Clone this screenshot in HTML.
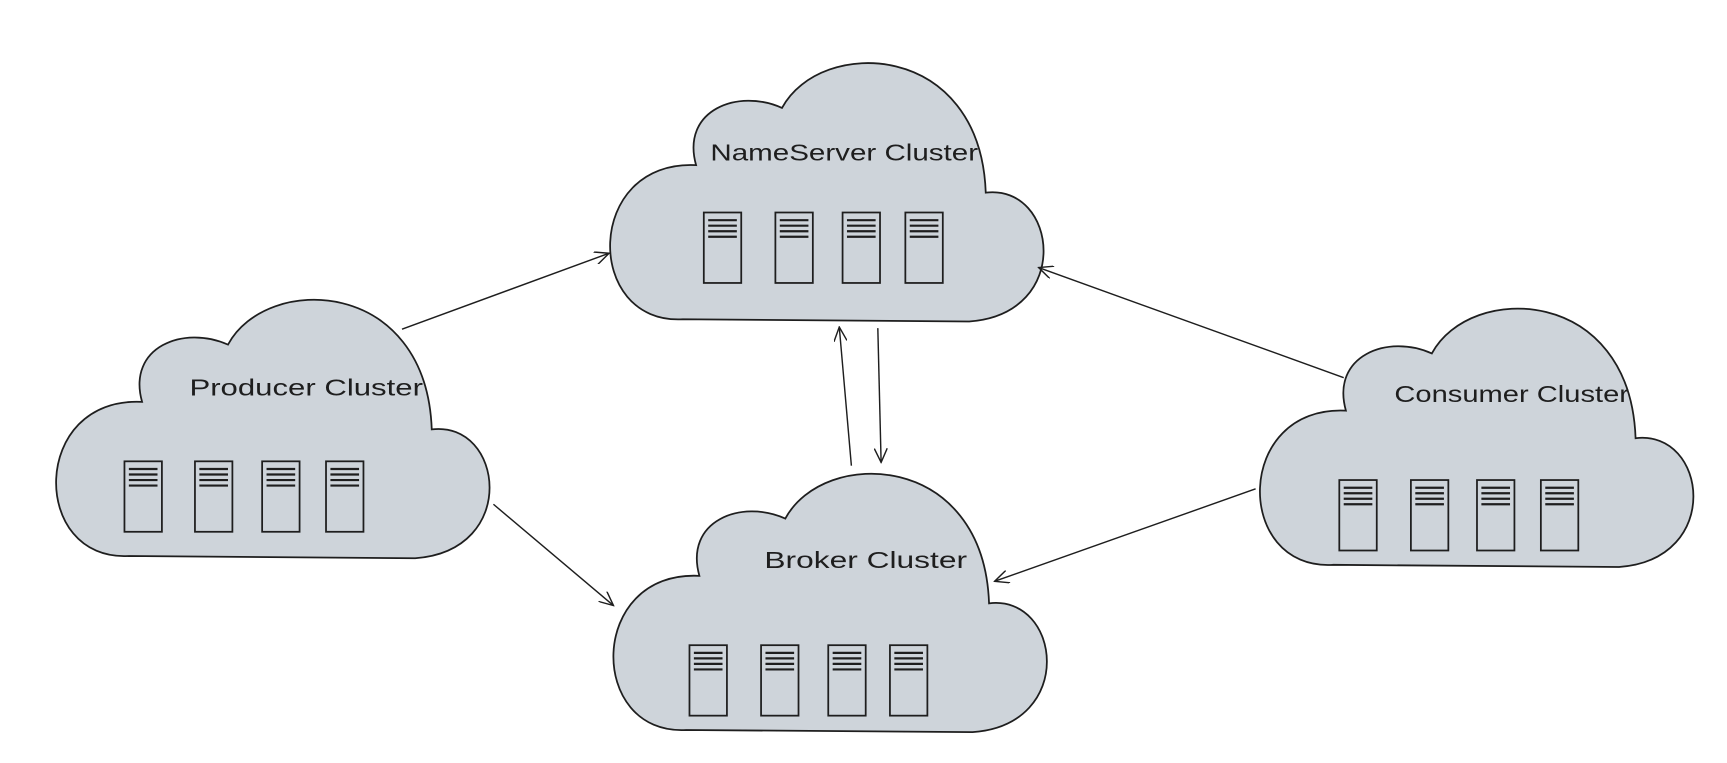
<!DOCTYPE html>
<html><head><meta charset="utf-8"><style>
html,body{margin:0;padding:0;background:#fff;}
svg{display:block;}
text{font-family:"Liberation Sans",sans-serif;font-size:21px;fill:#1e1e1e;}
</style></head><body>
<svg width="1727" height="763" viewBox="0 0 1568 693" preserveAspectRatio="none" xmlns="http://www.w3.org/2000/svg">
<defs>
<path id="cloud" d="M82,95 C68,45 120,25 160,43 C195,-22 340,-18 345,120 C410,112 425,230 330,237 L70,235 C-20,240 -20,90 82,95 Z" fill="#ced4da" stroke="#1e1e1e" stroke-width="1.6"/>
<g id="srv" fill="none" stroke="#1e1e1e" stroke-width="1.6">
<rect x="0" y="0" width="34" height="64"/>
<line x1="4" y1="7" x2="30" y2="7" stroke-width="2"/><line x1="4" y1="12" x2="30" y2="12" stroke-width="2"/><line x1="4" y1="17" x2="30" y2="17" stroke-width="2"/><line x1="4" y1="22" x2="30" y2="22" stroke-width="2"/>
</g>
<marker id="ah" markerWidth="14" markerHeight="12" refX="13" refY="6" orient="auto" markerUnits="userSpaceOnUse">
<path d="M0,0 L13,6 L0,12" fill="none" stroke="#1e1e1e" stroke-width="1.3"/>
</marker>
</defs>
<use href="#cloud" x="550" y="55"/>
<use href="#cloud" x="47" y="270"/>
<use href="#cloud" x="553" y="428"/>
<use href="#cloud" x="1140" y="278"/>

<use href="#srv" x="639" y="193"/><use href="#srv" x="704" y="193"/><use href="#srv" x="765" y="193"/><use href="#srv" x="822" y="193"/>
<use href="#srv" x="113" y="419"/><use href="#srv" x="177" y="419"/><use href="#srv" x="238" y="419"/><use href="#srv" x="296" y="419"/>
<use href="#srv" x="626" y="586"/><use href="#srv" x="691" y="586"/><use href="#srv" x="752" y="586"/><use href="#srv" x="808" y="586"/>
<use href="#srv" x="1216" y="436"/><use href="#srv" x="1281" y="436"/><use href="#srv" x="1341" y="436"/><use href="#srv" x="1399" y="436"/>

<text x="645" y="146" textLength="243" lengthAdjust="spacingAndGlyphs">NameServer Cluster</text>
<text x="172" y="359" textLength="212" lengthAdjust="spacingAndGlyphs">Producer Cluster</text>
<text x="694" y="516" textLength="184" lengthAdjust="spacingAndGlyphs">Broker Cluster</text>
<text x="1266" y="365" textLength="213" lengthAdjust="spacingAndGlyphs">Consumer Cluster</text>

<g stroke="#1e1e1e" stroke-width="1.3" fill="none" marker-end="url(#ah)">
<line x1="365" y1="299" x2="553" y2="230"/>
<line x1="448" y1="458" x2="557" y2="550"/>
<line x1="773" y1="423" x2="762" y2="297"/>
<line x1="797" y1="298" x2="800" y2="420"/>
<line x1="1220" y1="343" x2="943" y2="243"/>
<line x1="1140" y1="444" x2="903" y2="528"/>
</g>
</svg>
</body></html>
